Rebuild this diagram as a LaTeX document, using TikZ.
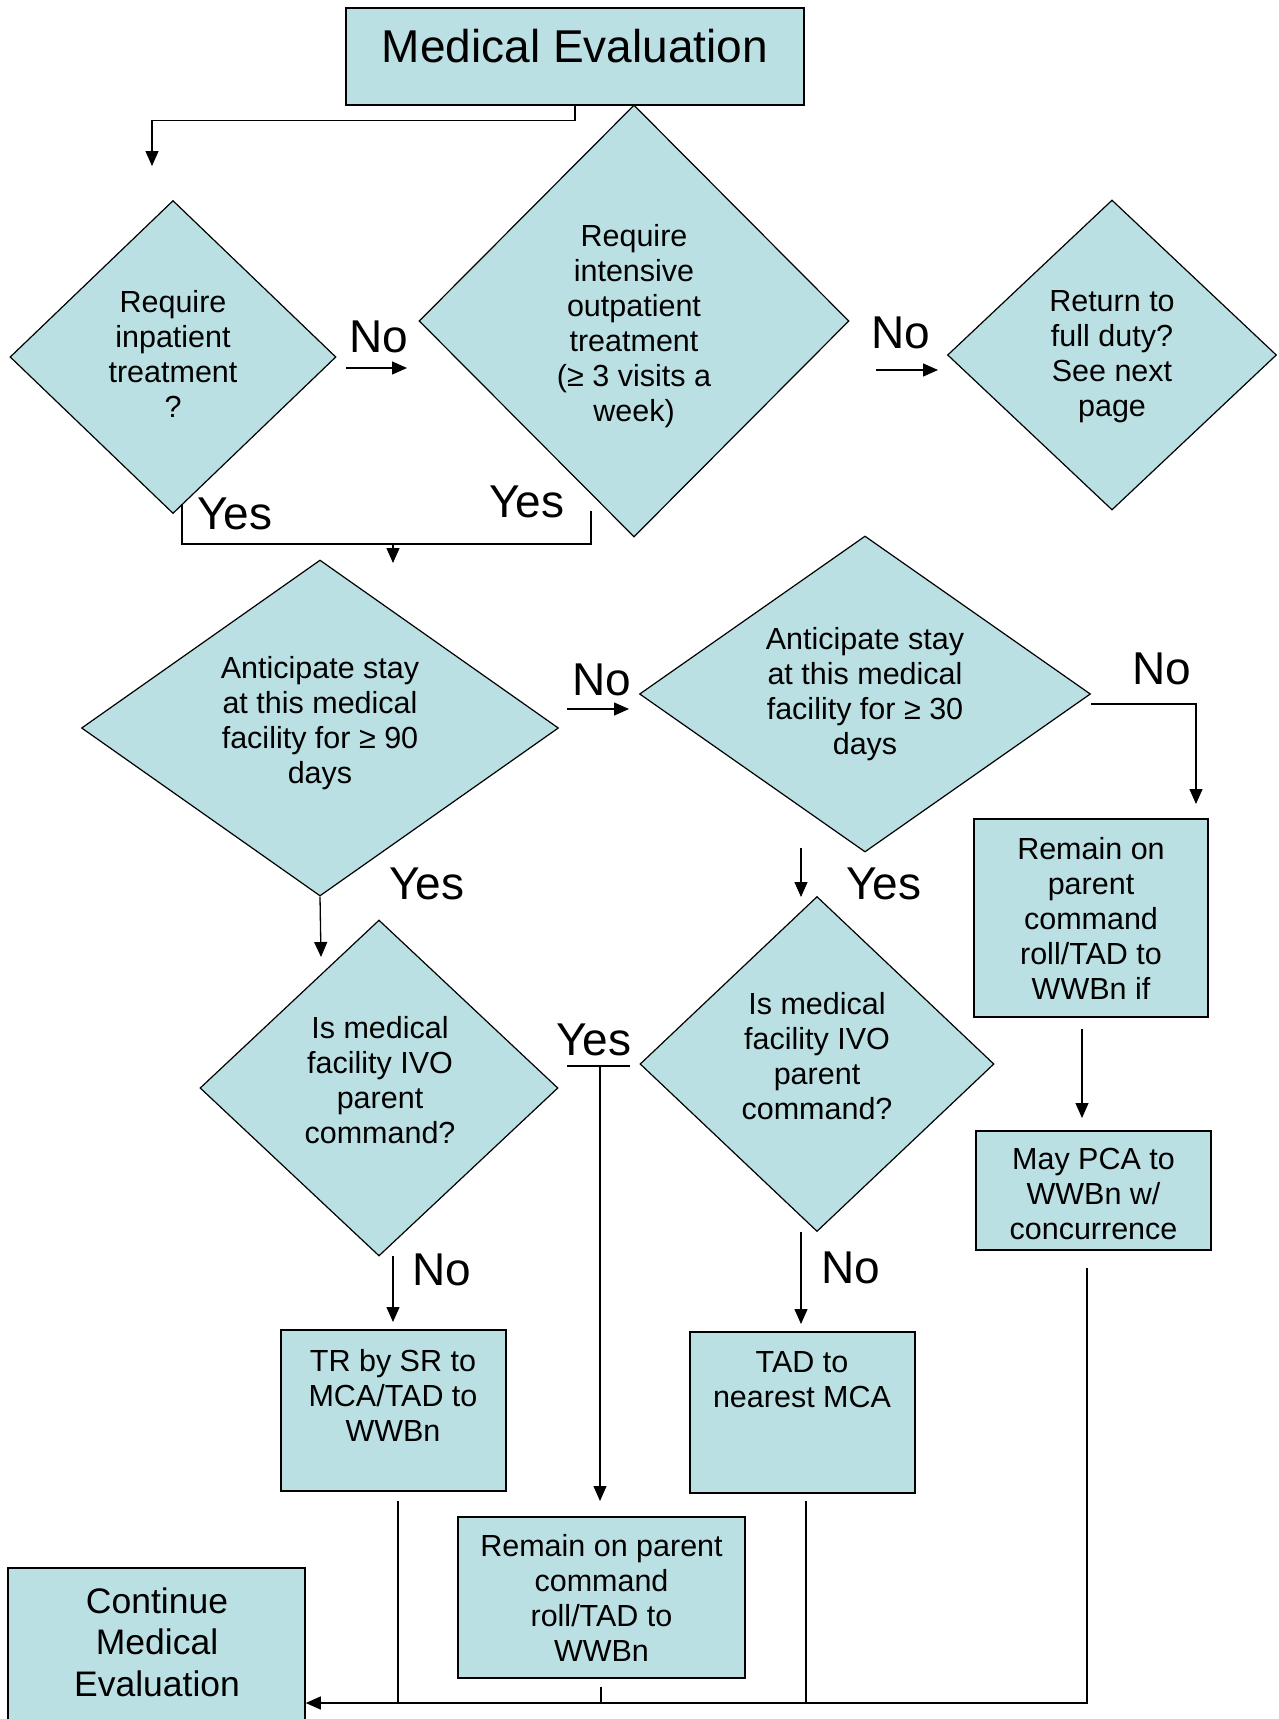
\documentclass[tikz,border=0pt]{standalone}
\usepackage{fontspec}
\setmainfont{Liberation Sans}
\usetikzlibrary{shapes.geometric,arrows.meta,calc}
\definecolor{boxfill}{RGB}{187,224,227}
\newcommand{\fsm}{\fontsize{15.25pt}{17.5pt}\selectfont}
\newcommand{\flg}{\fontsize{23pt}{26pt}\selectfont}
\newcommand{\fcont}{\fontsize{17.75pt}{20.75pt}\selectfont}
\tikzset{
  dia/.style={diamond, draw, fill=boxfill, inner sep=0pt, line width=0.6pt},
  bx/.style={rectangle, draw, fill=boxfill, inner sep=0pt, line width=0.75pt, align=center, font=\fsm},
  txt/.style={align=center, inner sep=0pt, font=\fsm},
  lbl/.style={inner sep=0pt, font=\flg},
  arr/.style={line width=0.65pt, -{Triangle[length=7.5pt,width=6.5pt]}},
  ln/.style={line width=0.65pt},
}
\begin{document}
\begin{tikzpicture}[x=0.5pt,y=-0.5pt]
\useasboundingbox (0,0) rectangle (1279,1719);
% title
\node[bx, minimum width=229pt, minimum height=48.5pt] (title) at (575,56.5) {};
\node[lbl, anchor=base] (titletxt) at (575,62) {Medical Evaluation};
% diamonds
\node[dia, minimum width=163pt, minimum height=156.5pt] (d1) at (173,357) {};
\node[dia, minimum width=215pt, minimum height=216pt] (d2) at (634,321) {};
\node[dia, minimum width=164.5pt, minimum height=155pt] (d3) at (1112,355) {};
\node[dia, minimum width=238.5pt, minimum height=168pt] (d4) at (320,728) {};
\node[dia, minimum width=225.5pt, minimum height=158pt] (d5) at (865,694) {};
\node[dia, minimum width=179pt, minimum height=168pt] (d6) at (379,1088) {};
\node[dia, minimum width=177pt, minimum height=167.5pt] (d7) at (817,1064) {};
\node[txt] (t1) at (173,354) {Require\\inpatient\\treatment\\?};
\node[txt] (t2) at (634,326) {Require\\intensive\\outpatient\\treatment\\(≥ 3 visits a\\week)};
\node[txt] (t3) at (1112,357) {Return to\\full duty?\\See next\\page};
\node[txt] (t4) at (320,723) {Anticipate stay\\at this medical\\facility for ≥ 90\\days};
\node[txt] (t5) at (865,694) {Anticipate stay\\at this medical\\facility for ≥ 30\\days};
\node[txt] (t6) at (380,1080) {Is medical\\facility IVO\\parent\\command?};
\node[txt] (t7) at (817,1056) {Is medical\\facility IVO\\parent\\command?};
% boxes
\node[bx, minimum width=117pt, minimum height=99pt] (r1) at (1091,918) {Remain on\\parent\\command\\roll/TAD to\\WWBn if};
\node[bx, minimum width=117.5pt, minimum height=59.5pt] (r2) at (1093.5,1190.5) {};
\node[txt] (r2txt) at (1093.5,1194) {May PCA to\\WWBn w/\\concurrence};
\node[bx, minimum width=112.5pt, minimum height=80.5pt] (tr) at (393.5,1410.5) {};
\node[txt] (trtxt) at (393,1395) {TR by SR to\\MCA/TAD to\\WWBn};
\node[bx, minimum width=112.5pt, minimum height=80.5pt] (tad) at (802.5,1412.5) {};
\node[txt] (tadtxt) at (802,1380) {TAD to\\nearest MCA};
\node[bx, minimum width=143.5pt, minimum height=80.5pt] (mid) at (601.5,1597.5) {Remain on parent\\command\\roll/TAD to\\WWBn};
\node[bx, minimum width=148.5pt, minimum height=85pt] (cont) at (156.5,1653) {};
\node[txt, font=\fcont] (conttxt) at (157,1642) {Continue\\Medical\\Evaluation};
% labels
\node[lbl] (no1) at (379,337) {No};
\node[lbl] (no2) at (901,333) {No};
\node[lbl] (yes1) at (235,514) {Yes};
\node[lbl] (yes2) at (527,502) {Yes};
\node[lbl] (no3) at (602,680) {No};
\node[lbl] (no4) at (1162,669) {No};
\node[lbl] (yes3) at (427,884) {Yes};
\node[lbl] (yes4) at (884,884) {Yes};
\node[lbl] (yes5) at (594,1040) {Yes};
\node[lbl] (no5) at (442,1270) {No};
\node[lbl] (no6) at (851,1268) {No};
% free-end coordinates
\coordinate (a1) at (152,166);
\coordinate (n1s) at (346,368); \coordinate (n1e) at (407,368);
\coordinate (n2s) at (876,370); \coordinate (n2e) at (938,370);
\coordinate (bl1) at (182,504); \coordinate (bl2) at (182,544);
\coordinate (br2) at (591,544); \coordinate (br1) at (591,511);
\coordinate (bm) at (393,544); \coordinate (bt) at (393,563);
\coordinate (n3s) at (567,709); \coordinate (n3e) at (629,709);
\coordinate (r1tip) at (1196,804);
\coordinate (a4) at (321,957);
\coordinate (y4s) at (801,848); \coordinate (y4e) at (801,897);
\coordinate (r1d) at (1082,1029); \coordinate (r2u) at (1082,1118);
\coordinate (y5l) at (567,1066); \coordinate (y5r) at (630,1066);
\coordinate (y5m) at (600,1066); \coordinate (y5e) at (600,1501);
\coordinate (n5s) at (393,1256); \coordinate (n5e) at (393,1322);
\coordinate (n6s) at (801,1232); \coordinate (n6e) at (801,1324);
\coordinate (trd) at (398,1501); \coordinate (trb) at (398,1703);
\coordinate (tadd) at (806,1501); \coordinate (tadb) at (806,1703);
\coordinate (midd) at (601,1687); \coordinate (midb) at (601,1703);
\coordinate (r2d) at (1087,1268); \coordinate (bend) at (1087,1703);
% connectors
\draw[arr] (title.south) -- ++(0,15) -| (a1);
\draw[arr] (n1s) -- (n1e);
\draw[arr] (n2s) -- (n2e);
\draw[ln] (bl1) -- (bl2) -- (br2) -- (br1);
\draw[arr] (bm) -- (bt);
\draw[arr] (n3s) -- (n3e);
\draw[arr] (d5.east) ++(0,10) -| (r1tip);
\draw[arr] (d4.south) -- (a4);
\draw[arr] (y4s) -- (y4e);
\draw[arr] (r1d) -- (r2u);
\draw[ln] (y5l) -- (y5r);
\draw[arr] (y5m) -- (y5e);
\draw[arr] (n5s) -- (n5e);
\draw[arr] (n6s) -- (n6e);
\draw[ln] (trd) -- (trb);
\draw[ln] (tadd) -- (tadb);
\draw[ln] (midd) -- (midb);
\draw[arr] (r2d) -- (bend) -- (bend -| cont.east);
\end{tikzpicture}
\end{document}
